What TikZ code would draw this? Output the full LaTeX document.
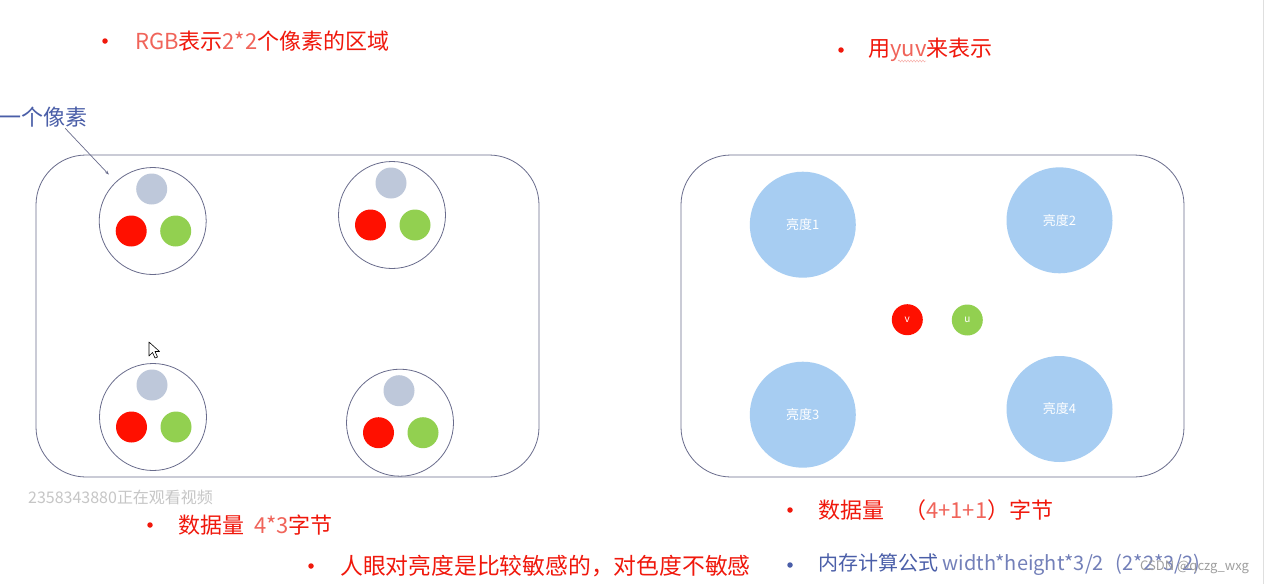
\documentclass[tikz,border=0pt]{standalone}
\usepackage{fontspec}
\setmainfont{Noto Sans CJK SC}
\usetikzlibrary{arrows.meta,decorations.pathmorphing}

\definecolor{frameline}{RGB}{105,108,140}
\definecolor{pxred}{RGB}{255,16,0}
\definecolor{pxgreen}{RGB}{146,208,80}
\definecolor{pxgray}{RGB}{190,200,218}
\definecolor{lumablue}{RGB}{167,205,242}
\definecolor{txtred}{RGB}{240,24,12}
\definecolor{thinred}{RGB}{240,100,90}
\definecolor{txtblue}{RGB}{74,94,168}
\definecolor{thinblue}{RGB}{115,128,185}

\tikzset{
	areabox/.style = {draw = frameline, line width = 0.8pt, rounded corners = 50pt,
		minimum width = 503pt, minimum height = 322pt, inner sep = 0},
	pixel/.style = {circle, draw = frameline, line width = 0.8pt, minimum size = 107pt, inner sep = 0},
	dot/.style = {circle, minimum size = 31pt, inner sep = 0},
	luma/.style = {circle, fill = lumablue, minimum size = 106pt, inner sep = 0,
		text = white, font = \fontsize{13}{15}\selectfont},
	bullet/.style = {circle, minimum size = 5.5pt, inner sep = 0},
	caption/.style = {anchor = west, inner sep = 0, font = \fontsize{22}{26}\selectfont}
}

\begin{document}
\begin{tikzpicture}[x = 1pt, y = -1pt]
		\useasboundingbox (0, 0) rectangle (1264, 584);
		\fill[white] (0, 0) rectangle (1264, 584);
		\draw[gray!25, line width = 1pt] (1263, 0) -- (1263, 584);

		\node[bullet, fill = txtred] (b1) at (105, 41) {};
		\node[caption, text = txtred] (t1) at (135, 41) {{\color{thinred}RGB}表示{\color{thinred}2*2}个像素的区域};
		\node[bullet, fill = txtred] (b2) at (841, 50) {};
		\node[caption, text = txtred] (t2) at (868, 50) {用{\color{thinred}yuv}来表示};
		\draw[thinred!60, decorate, decoration = {snake, amplitude = 1pt, segment length = 3pt}] (898, 61) -- (926, 61);

		\node[areabox] (rgbbox) at (287.5, 316) {};
		\node[areabox] (yuvbox) at (932.5, 316) {};

		\foreach \n/\x/\y in {1/152.7/221, 2/392/215, 3/153/417, 4/400/422.7}
		{
			\node[pixel] (px\n) at (\x, \y) {};
			\node[dot, fill = pxgray] (px\n-y) at (\x - 1, \y - 32) {};
			\node[dot, fill = pxred] (px\n-r) at (\x - 21.5, \y + 10) {};
			\node[dot, fill = pxgreen] (px\n-g) at (\x + 23, \y + 10) {};
		}

		\node[caption, text = txtblue] (onepx) at (-1, 117) {一个像素};
		\draw[frameline, line width = 0.7pt, -{Stealth[length = 4pt, width = 3pt]}, shorten > = 10pt]
			([xshift = 22pt, yshift = -1pt]onepx.south) -- (px1);

		\foreach \n/\x/\y in {1/802.8/224.7, 2/1059.5/220.3, 3/802.8/414.7, 4/1059.5/409}
			\node[luma] (luma\n) at (\x, \y) {亮度\n};
		\node[dot, fill = pxred, text = white, font = \fontsize{10}{12}\selectfont] (chv) at (907.3, 319.7) {v};
		\node[dot, fill = pxgreen, text = white, font = \fontsize{10}{12}\selectfont] (chu) at (967.3, 320) {u};

		\filldraw[fill = white, draw = black, line width = 0.6pt, line join = round]
			(149, 342) -- (149, 356) -- (152.5, 352.5) -- (155, 358) -- (157.5, 357) -- (155, 351.5) -- (159.5, 351.5) -- cycle;

		\node[caption, text = gray!45, font = \fontsize{16}{18}\selectfont] (viewer) at (28, 497) {2358343880正在观看视频};

		\node[bullet, fill = txtred] (b3) at (150, 525) {};
		\node[caption, text = txtred] (t3) at (178, 525) {数据量\hspace{10pt}{\color{thinred}4*3}字节};
		\node[bullet, fill = txtred] (b4) at (311, 566) {};
		\node[caption, text = txtred, font = \fontsize{22.8}{26}\selectfont] (t4) at (340, 566) {人眼对亮度是比较敏感的，对色度不敏感};
		\node[bullet, fill = txtred] (b5) at (790, 510) {};
		\node[caption, text = txtred] (t5) at (818, 510) {数据量\hspace{20pt}（{\color{thinred}4+1+1}）字节};
		\node[bullet, fill = txtblue] (b6) at (790, 565) {};
		\node[caption, text = txtblue, font = \fontsize{20}{24}\selectfont] (t6) at (818, 565) {内存计算公式 {\color{thinblue}width*height*3/2\hspace{12pt}(2*2*3/2)}};
		\node[caption, text = gray!75, font = \fontsize{13}{15}\selectfont] (csdn) at (1140, 567) {CSDN @qczg\_wxg};
	\end{tikzpicture}
\end{document}
